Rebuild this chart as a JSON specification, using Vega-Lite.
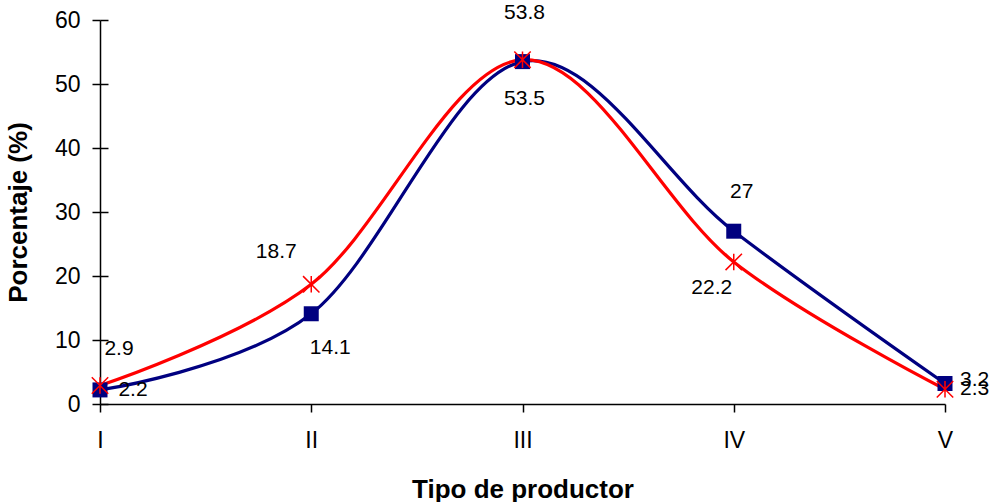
{
  "$schema": "https://vega.github.io/schema/vega-lite/v6.json",
  "width": 845,
  "height": 384,
  "autosize": {"type": "none"},
  "padding": {"left": 100, "top": 20, "right": 46, "bottom": 98},
  "background": "white",
  "config": {
    "view": {"stroke": null},
    "font": "Liberation Sans",
    "axis": {
      "grid": false,
      "labelFont": "Liberation Sans",
      "labelFontSize": 23,
      "labelColor": "black",
      "domainColor": "black",
      "domainWidth": 1.5,
      "tickColor": "black",
      "tickWidth": 1.5,
      "tickSize": 8,
      "titleFont": "Liberation Sans",
      "titleFontSize": 26,
      "titleFontWeight": "bold",
      "titleColor": "black"
    }
  },
  "data": {
    "values": [
      {"tipo": "I", "serie": "Serie 1", "valor": 2.2},
      {"tipo": "II", "serie": "Serie 1", "valor": 14.1},
      {"tipo": "III", "serie": "Serie 1", "valor": 53.5},
      {"tipo": "IV", "serie": "Serie 1", "valor": 27},
      {"tipo": "V", "serie": "Serie 1", "valor": 3.2},
      {"tipo": "I", "serie": "Serie 2", "valor": 2.9},
      {"tipo": "II", "serie": "Serie 2", "valor": 18.7},
      {"tipo": "III", "serie": "Serie 2", "valor": 53.8},
      {"tipo": "IV", "serie": "Serie 2", "valor": 22.2},
      {"tipo": "V", "serie": "Serie 2", "valor": 2.3}
    ]
  },
  "encoding": {
    "x": {
      "field": "tipo",
      "type": "ordinal",
      "scale": {"type": "point", "padding": 0, "domain": ["I", "II", "III", "IV", "V"]},
      "axis": {"title": "Tipo de productor", "labelAngle": 0, "labelPadding": 17, "titlePadding": 24}
    },
    "y": {
      "field": "valor",
      "type": "quantitative",
      "scale": {"domain": [0, 60], "nice": false},
      "axis": null
    }
  },
  "resolve": {"axis": {"y": "independent"}},
  "layer": [
    {
      "mark": {"type": "line", "interpolate": "cardinal", "strokeWidth": 3.2},
      "encoding": {
        "y": {
          "field": "valor",
          "type": "quantitative",
          "scale": {"domain": [0, 60], "nice": false},
          "axis": {"orient": "left", "title": "Porcentaje (%)", "values": [0, 10, 20, 30, 40, 50, 60], "labelPadding": 12, "titlePadding": 23}
        },
        "color": {"field": "serie", "type": "nominal", "scale": {"domain": ["Serie 1", "Serie 2"], "range": ["#000080", "#FF0000"]}, "legend": null}
      }
    },
    {
      "transform": [{"filter": "datum.serie === 'Serie 1'"}],
      "mark": {"type": "point", "shape": "square", "filled": true, "size": 225, "color": "#000080", "opacity": 1},
      "encoding": {
        "y": {
          "field": "valor",
          "type": "quantitative",
          "scale": {"domain": [0, 60], "nice": false},
          "axis": {"orient": "left", "title": null, "labels": false, "domain": false, "tickSize": -8, "values": [0, 10, 20, 30, 40, 50, 60]}
        }
      }
    },
    {
      "transform": [{"filter": "datum.serie === 'Serie 2'"}],
      "mark": {"type": "point", "shape": "M-1,-1L1,1M-1,1L1,-1M0,-1L0,1", "filled": false, "size": 270, "stroke": "#FF0000", "strokeWidth": 1.5, "opacity": 1}
    },
    {
      "transform": [{"filter": "datum.serie === 'Serie 2' && datum.tipo === 'I'"}],
      "mark": {"type": "text", "fontSize": 21, "color": "black", "dx": 19, "dy": -36},
      "encoding": {"text": {"field": "valor", "type": "nominal"}}
    },
    {
      "transform": [{"filter": "datum.serie === 'Serie 1' && datum.tipo === 'I'"}],
      "mark": {"type": "text", "fontSize": 21, "color": "black", "dx": 33, "dy": 0},
      "encoding": {"text": {"field": "valor", "type": "nominal"}}
    },
    {
      "transform": [{"filter": "datum.serie === 'Serie 2' && datum.tipo === 'II'"}],
      "mark": {"type": "text", "fontSize": 21, "color": "black", "dx": -35, "dy": -32},
      "encoding": {"text": {"field": "valor", "type": "nominal"}}
    },
    {
      "transform": [{"filter": "datum.serie === 'Serie 1' && datum.tipo === 'II'"}],
      "mark": {"type": "text", "fontSize": 21, "color": "black", "dx": 19, "dy": 34},
      "encoding": {"text": {"field": "valor", "type": "nominal"}}
    },
    {
      "transform": [{"filter": "datum.serie === 'Serie 2' && datum.tipo === 'III'"}],
      "mark": {"type": "text", "fontSize": 21, "color": "black", "dx": 2, "dy": -47},
      "encoding": {"text": {"field": "valor", "type": "nominal"}}
    },
    {
      "transform": [{"filter": "datum.serie === 'Serie 1' && datum.tipo === 'III'"}],
      "mark": {"type": "text", "fontSize": 21, "color": "black", "dx": 2, "dy": 37},
      "encoding": {"text": {"field": "valor", "type": "nominal"}}
    },
    {
      "transform": [{"filter": "datum.serie === 'Serie 1' && datum.tipo === 'IV'"}],
      "mark": {"type": "text", "fontSize": 21, "color": "black", "dx": 8, "dy": -39},
      "encoding": {"text": {"field": "valor", "type": "nominal"}}
    },
    {
      "transform": [{"filter": "datum.serie === 'Serie 2' && datum.tipo === 'IV'"}],
      "mark": {"type": "text", "fontSize": 21, "color": "black", "dx": -22, "dy": 26},
      "encoding": {"text": {"field": "valor", "type": "nominal"}}
    },
    {
      "transform": [{"filter": "datum.serie === 'Serie 1' && datum.tipo === 'V'"}],
      "mark": {"type": "text", "fontSize": 21, "color": "black", "align": "left", "dx": 15, "dy": -4},
      "encoding": {"text": {"field": "valor", "type": "nominal"}}
    },
    {
      "transform": [{"filter": "datum.serie === 'Serie 2' && datum.tipo === 'V'"}],
      "mark": {"type": "text", "fontSize": 21, "color": "black", "align": "left", "dx": 15, "dy": 0},
      "encoding": {"text": {"field": "valor", "type": "nominal"}}
    }
  ]
}
